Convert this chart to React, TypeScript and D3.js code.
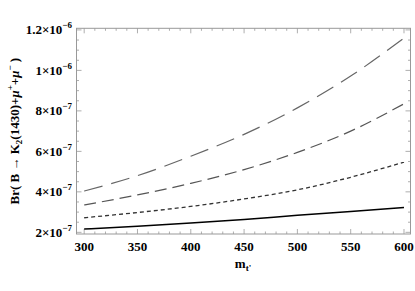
import React, { useEffect, useRef } from "react";
import * as d3 from "d3";

const mValues = [300, 350, 400, 450, 500, 550, 600];
const solidSeries = [2.16e-7, 2.3e-7, 2.46e-7, 2.64e-7, 2.84e-7, 3.03e-7, 3.23e-7];
const shortDashSeries = [2.72e-7, 2.98e-7, 3.28e-7, 3.65e-7, 4.1e-7, 4.72e-7, 5.47e-7];
const mediumDashSeries = [3.35e-7, 3.85e-7, 4.42e-7, 5.1e-7, 5.95e-7, 7.0e-7, 8.35e-7];
const longDashSeries = [4.04e-7, 4.8e-7, 5.76e-7, 6.84e-7, 8.15e-7, 9.72e-7, 1.16e-6];
const xTicks = [300, 350, 400, 450, 500, 550, 600];
const yTicks = [2e-7, 4e-7, 6e-7, 8e-7, 1e-6, 1.2e-6];
const yTickMantissa = ["2", "4", "6", "8", "1", "1.2"];
const yTickExp = ["\u22127", "\u22127", "\u22127", "\u22127", "\u22126", "\u22126"];

const W = 415, H = 291;
const L = 76.5, R = 410.5, T = 28.3, B = 234;

export default function App() {
  const ref = useRef<SVGSVGElement>(null);
  useEffect(() => {
    const svg = d3.select(ref.current);
    svg.selectAll("*").remove();
    const x = d3.scaleLinear().domain([292.8, 606.1]).range([L, R]);
    const y = d3.scaleLinear().domain([1.918e-7, 1.208e-6]).range([B, T]);
    const font = "'Liberation Serif', 'Times New Roman', serif";

    // frame
    svg.append("rect").attr("x", L).attr("y", T).attr("width", R - L).attr("height", B - T)
      .attr("fill", "none").attr("stroke", "#999").attr("stroke-width", 1);

    const tick = (x1: number, y1: number, x2: number, y2: number) =>
      svg.append("line").attr("x1", x1).attr("y1", y1).attr("x2", x2).attr("y2", y2)
        .attr("stroke", "#999").attr("stroke-width", 0.8);

    // x ticks
    for (let v = 300; v <= 600; v += 10) {
      const major = v % 50 === 0;
      const len = major ? 5 : 2.5;
      const px = x(v);
      tick(px, B, px, B - len);
      tick(px, T, px, T + len);
    }
    // y ticks
    for (let i = 0; i <= 20; i++) {
      const v = 2e-7 + i * 5e-8;
      const major = i % 4 === 0;
      const len = major ? 5 : 2.5;
      const py = y(v);
      tick(L, py, L + len, py);
      tick(R, py, R - len, py);
    }

    // x tick labels
    svg.append("g").selectAll("text").data(xTicks).join("text")
      .attr("x", (d) => x(d)).attr("y", 251)
      .attr("text-anchor", "middle").attr("font-family", font).attr("font-weight", "bold")
      .attr("font-size", 13).text((d) => String(d));

    // y tick labels
    yTicks.forEach((v, i) => {
      const t = svg.append("text").attr("x", 72).attr("y", y(v) + 4.5)
        .attr("text-anchor", "end").attr("font-family", font).attr("font-weight", "bold")
        .attr("font-size", 13);
      t.append("tspan").text(yTickMantissa[i] + "\u00d710");
      t.append("tspan").attr("dy", -6).attr("font-size", 9).text(yTickExp[i]);
    });

    // axis titles
    const xt = svg.append("text").attr("x", 243).attr("y", 268).attr("text-anchor", "middle")
      .attr("font-family", font).attr("font-weight", "bold").attr("font-size", 13);
    xt.append("tspan").text("m");
    xt.append("tspan").attr("dy", 3).attr("font-size", 9).text("t'");

    const yt = svg.append("text").attr("transform", `translate(19,${(T + B) / 2}) rotate(-90)`)
      .attr("text-anchor", "middle").attr("font-family", font).attr("font-weight", "bold")
      .attr("font-size", 13);
    yt.append("tspan").text("Br( B \u2192 K");
    yt.append("tspan").attr("dy", 3).attr("font-size", 9).text("2");
    yt.append("tspan").attr("dy", -3).text("(1430)+");
    yt.append("tspan").attr("font-style", "italic").text("\u03bc");
    yt.append("tspan").attr("dy", -6).attr("font-size", 9).text("+");
    yt.append("tspan").attr("dy", 6).text("+");
    yt.append("tspan").attr("font-style", "italic").text("\u03bc");
    yt.append("tspan").attr("dy", -6).attr("font-size", 9).text("\u2212");
    yt.append("tspan").attr("dy", 6).text(" )");

    const line = d3.line<[number, number]>().x((d) => x(d[0])).y((d) => y(d[1])).curve(d3.curveMonotoneX);
    const series: [number[], string, string, number][] = [
      [solidSeries, "#000", "none", 1.5],
      [shortDashSeries, "#333", "4,3", 1.3],
      [mediumDashSeries, "#555", "12,6", 1.2],
      [longDashSeries, "#666", "19,9", 1.2],
    ];
    series.forEach(([vals, color, dash, w]) => {
      svg.append("path").datum(mValues.map((m, i) => [m, vals[i]] as [number, number]))
        .attr("d", line).attr("fill", "none").attr("stroke", color)
        .attr("stroke-width", w).attr("stroke-dasharray", dash);
    });
  }, []);
  return (
    <svg ref={ref} width={W} height={H}
      style={{ position: "absolute", left: 0, top: 0, background: "#fff" }} />
  );
}
